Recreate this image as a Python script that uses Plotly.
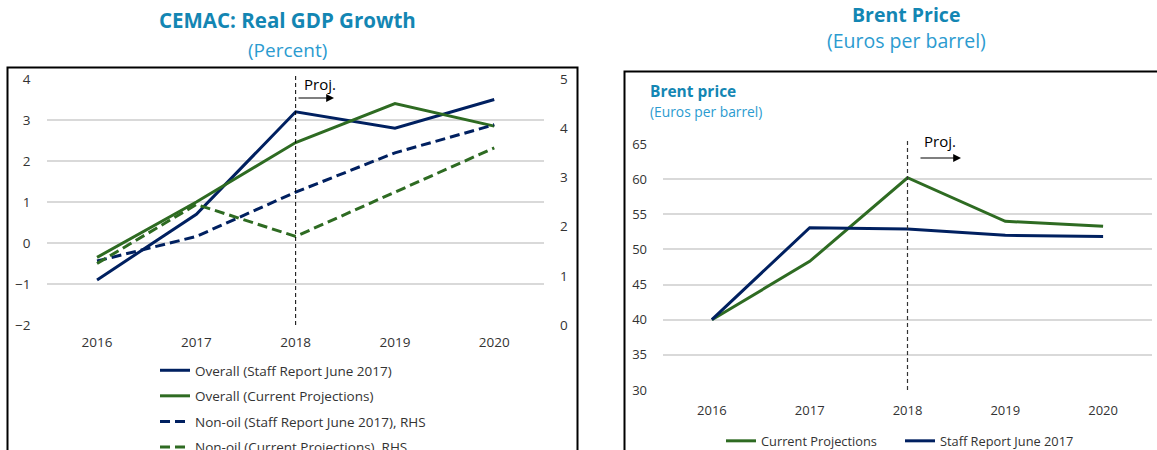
import plotly.graph_objects as go

W, H = 1157, 450
OFF = 0  # page offset of the figure (body margin removed below)

years = ["2016", "2017", "2018", "2019", "2020"]
proj_start = "2018"

# Left chart: CEMAC Real GDP growth (percent)
overall_staff = [-0.9, 0.7, 3.2, 2.8, 3.5]
overall_current = [-0.35, 1.0, 2.45, 3.4, 2.85]
nonoil_staff_rhs = [1.3, 1.8, 2.7, 3.5, 4.07]
nonoil_current_rhs = [1.25, 2.45, 1.8, 2.7, 3.6]

left_ticks = [-2, -1, 0, 1, 2, 3, 4]
right_ticks = [0, 1, 2, 3, 4, 5]

# Right chart: Brent price (euros per barrel)
brent_current = [40.0, 48.3, 60.2, 54.0, 53.3]
brent_staff = [40.0, 53.1, 52.9, 52.0, 51.85]
brent_ticks = [30, 35, 40, 45, 50, 55, 60, 65]

NAVY = "#002060"
GREEN = "#2e6b22"
TITLE = "#1386b3"
SUB = "#2b9bd0"
FONT = "Open Sans"
TICKC = "#333333"


def px(x):
    return (x - OFF) / W


def py(y):
    return 1 - (y - OFF) / H


DASH = "10px,5px"

fig = go.Figure()

fig.add_trace(go.Scatter(x=years, y=overall_staff, mode="lines", name="Overall (Staff Report June 2017)",
                         line=dict(color=NAVY, width=3), xaxis="x", yaxis="y", legend="legend",
                         legendgroup="a"))
fig.add_trace(go.Scatter(x=years, y=overall_current, mode="lines", name="Overall (Current Projections)",
                         line=dict(color=GREEN, width=3), xaxis="x", yaxis="y", legend="legend",
                         legendgroup="b"))
fig.add_trace(go.Scatter(x=years, y=nonoil_staff_rhs, mode="lines", name="Non-oil (Staff Report June 2017), RHS",
                         line=dict(color=NAVY, width=3, dash=DASH), xaxis="x", yaxis="y2", legend="legend",
                         legendgroup="c"))
fig.add_trace(go.Scatter(x=years, y=nonoil_current_rhs, mode="lines", name="Non-oil (Current Projections) ,RHS",
                         line=dict(color=GREEN, width=3, dash=DASH), xaxis="x", yaxis="y2", legend="legend",
                         legendgroup="d"))

fig.add_trace(go.Scatter(x=years, y=brent_current, mode="lines", name="Current Projections",
                         line=dict(color=GREEN, width=3), xaxis="x3", yaxis="y3", legend="legend2"))
fig.add_trace(go.Scatter(x=years, y=brent_staff, mode="lines", name="Staff Report June 2017",
                         line=dict(color=NAVY, width=3), xaxis="x3", yaxis="y3", legend="legend2"))

grid = "#d9d9d9"
tf_left = dict(family=FONT, size=13.5, color=TICKC)
tf_right = dict(family=FONT, size=13, color=TICKC)

fig.update_layout(
    width=W, height=H,
    margin=dict(l=0, r=0, t=0, b=0, autoexpand=False),
    paper_bgcolor="white", plot_bgcolor="white",
    font=dict(family=FONT, color=TICKC),
    xaxis=dict(domain=[px(47.4), px(543.9)], type="category", range=[-0.5, 4.5],
               showgrid=False, zeroline=False, showline=False, ticks="",
               tickfont=tf_left, ticklabelstandoff=7, anchor="y"),
    yaxis=dict(domain=[py(325), py(79)], range=[-2, 4], tickvals=left_ticks,
               showgrid=True, gridcolor=grid, gridwidth=1.5, zeroline=False,
               showline=False, ticks="", tickfont=tf_left, ticklabelstandoff=16, anchor="x"),
    yaxis2=dict(domain=[py(325), py(79)], range=[0, 5], tickvals=right_ticks, overlaying="y",
                side="right", showgrid=False, zeroline=False, showline=False, ticks="",
                tickfont=tf_left, ticklabelstandoff=15, anchor="x"),
    xaxis3=dict(domain=[px(663), px(1152)], type="category", range=[-0.5, 4.5],
                showgrid=False, zeroline=False, showline=False, ticks="",
                tickfont=tf_right, ticklabelstandoff=11, anchor="y3"),
    yaxis3=dict(domain=[py(390), py(144)], range=[30, 65], tickvals=brent_ticks,
                showgrid=True, gridcolor=grid, gridwidth=1.5, zeroline=False,
                showline=False, ticks="", tickfont=tf_right,
                ticklabelstandoff=15, anchor="x3"),
    legend=dict(x=px(155), y=py(355), xanchor="left", yanchor="top", orientation="v",
                font=dict(family=FONT, size=13.5, color=TICKC), tracegroupgap=5,
                bgcolor="rgba(0,0,0,0)", itemwidth=30),
    legend2=dict(x=px(721), y=py(441), xanchor="left", yanchor="middle", orientation="h",
                 font=dict(family=FONT, size=12.8, color=TICKC), entrywidth=134,
                 bgcolor="rgba(0,0,0,0)", itemwidth=30),
    showlegend=True,
)

n = len(years)
proj_frac = (years.index(proj_start) + 0.5) / n

shapes = [
    # chart frames
    dict(type="rect", xref="paper", yref="paper", x0=px(7.5), x1=px(577.5), y0=-0.2, y1=py(67.5),
         line=dict(color="black", width=2), fillcolor="rgba(0,0,0,0)"),
    dict(type="rect", xref="paper", yref="paper", x0=px(624.5), x1=1.05, y0=-0.2, y1=py(71.5),
         line=dict(color="black", width=2), fillcolor="rgba(0,0,0,0)"),
    # projection lines at 2018
    dict(type="line", xref="x domain", yref="paper", x0=proj_frac, x1=proj_frac, y0=py(325), y1=py(73),
         line=dict(color="black", width=1, dash="4px,3px")),
    dict(type="line", xref="x3 domain", yref="paper", x0=proj_frac, x1=proj_frac, y0=py(390), y1=py(141),
         line=dict(color="#333333", width=1.2, dash="4px,3px")),
]
fig.update_layout(shapes=shapes)

ann = [
    dict(text="<b>CEMAC: Real GDP Growth</b>", x=px(287), y=py(20), font=dict(family=FONT, size=20.5, color=TITLE)),
    dict(text="(Percent)", x=px(287), y=py(50), font=dict(family=FONT, size=19, color=SUB)),
    dict(text="<b>Brent Price</b>", x=px(906), y=py(15), font=dict(family=FONT, size=19.5, color=TITLE)),
    dict(text="(Euros per barrel)", x=px(906), y=py(40), font=dict(family=FONT, size=19.5, color=SUB)),
    dict(text="<b>Brent price</b>", x=px(648), y=py(91), xanchor="left", font=dict(family=FONT, size=15.5, color=TITLE)),
    dict(text="(Euros per barrel)", x=px(648), y=py(111), xanchor="left", font=dict(family=FONT, size=13.8, color=SUB)),
    dict(text="Proj.", x=px(320), y=py(84), font=dict(family=FONT, size=15, color="black")),
    dict(text="Proj.", x=px(940), y=py(141), font=dict(family=FONT, size=15, color="black")),
]
for a in ann:
    a.setdefault("xanchor", "center")
    a.update(xref="paper", yref="paper", yanchor="middle", showarrow=False)
    fig.add_annotation(**a)

# arrows (tail offset in pixels from the head)
fig.add_annotation(x=px(334), y=py(98), ax=-37, ay=0, xref="paper", yref="paper",
                   axref="pixel", ayref="pixel", showarrow=True, arrowhead=2, arrowsize=1.3,
                   arrowwidth=1.2, arrowcolor="black", text="")
fig.add_annotation(x=px(961), y=py(158), ax=-42, ay=0, xref="paper", yref="paper",
                   axref="pixel", ayref="pixel", showarrow=True, arrowhead=2, arrowsize=1.3,
                   arrowwidth=1.2, arrowcolor="black", text="")

fig.write_html("out.html", config={"displayModeBar": False},
               post_script="document.body.style.margin='0px';document.body.style.overflow='hidden';")
